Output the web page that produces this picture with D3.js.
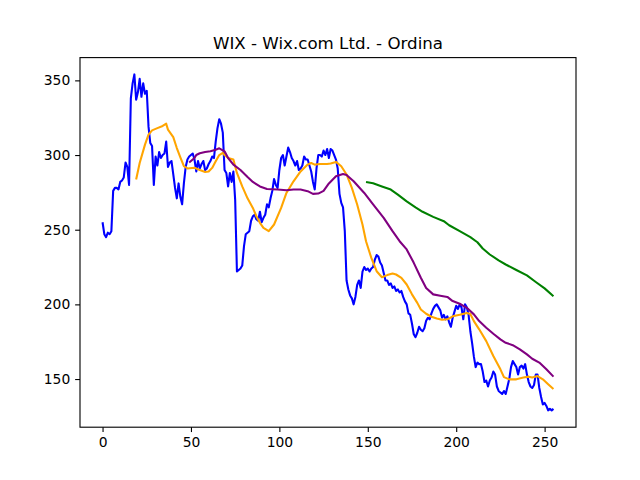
<!DOCTYPE html>
<html>
<head>
<meta charset="utf-8">
<script src="https://cdn.jsdelivr.net/npm/d3@7"></script>
<style>
	body { margin: 0; background: #fff; }
	text { font-family: "DejaVu Sans", sans-serif; }
</style>
</head>
<body>
<svg id="chart" width="640" height="480"></svg>
<script>
var title = "WIX - Wix.com Ltd. - Ordina"

// closing price, one value per day (index 0..255)
var price = [
	255, 247, 245, 248, 247, 249, 276, 278, 278, 277,
	282, 283, 285, 295, 292, 280, 338, 348, 354, 337,
	342, 351, 339, 348, 341, 343, 319, 308, 306, 280,
	299, 293, 302, 298, 300, 301, 309, 292, 295, 296,
	287, 278, 271, 281, 272, 267, 281, 292, 297, 299,
	300, 301, 297, 289, 296, 291, 294, 296, 290, 291,
	294, 296, 299, 298, 309, 318, 324, 321, 315, 290,
	288, 279, 288, 282, 289, 270, 222, 223, 224, 226,
	239, 247, 248, 249, 256, 259, 260, 257, 256, 262,
	255, 258, 260, 267, 265, 271, 276, 284, 280, 278,
	290, 298, 300, 293, 299, 305, 302, 298, 296, 293,
	296, 290, 291, 293, 299, 297, 297, 293, 289, 282,
	277, 291, 300, 300, 299, 303, 300, 304, 298, 304,
	303, 300, 297, 291, 274, 268, 265, 249, 216, 210,
	206, 204, 200, 205, 213, 216, 211, 222, 225, 223,
	224, 222, 224, 225, 230, 233, 232, 228, 226, 221,
	216, 216, 213, 214, 211, 212, 209, 210, 208, 209,
	205, 202, 200, 194, 193, 187, 180, 178, 181, 185,
	183, 182, 184, 189, 191, 190, 194, 197, 199, 200,
	198, 196, 191, 193, 190, 192, 188, 185, 191, 195,
	199, 197, 200, 198, 190, 200, 198, 193, 182, 174,
	165, 158, 161, 160, 160, 155, 148, 149, 145, 149,
	151, 155, 153, 145, 142, 141, 140, 142, 140, 145,
	150, 158, 162, 160, 158, 153, 158, 159, 157, 160,
	153, 148, 145, 144, 146, 153, 153, 144, 138, 133,
	134, 132, 129, 130, 129, 130
]

var ma20Days = [19, 21, 24, 26, 28, 31, 34, 36, 37, 40, 42, 44, 46, 48, 52, 55, 58, 60, 62, 64,
	66, 68, 69, 71, 74, 76, 79, 82, 85, 87, 89, 91, 94, 97, 101, 104, 108, 112, 116, 118,
	120, 123, 127, 129, 132, 135, 138, 141, 144, 147, 149, 152, 155, 158, 161, 164, 166, 169, 172, 175,
	178, 180, 183, 186, 189, 192, 195, 198, 202, 206, 208, 210, 213, 217, 221, 225, 227, 230, 234, 238,
	241, 243, 246, 249, 252, 255]
var ma20Values = [283.6, 294.7, 307, 313.7, 316.5, 318, 319.5, 321, 317, 312, 304.7, 298.5, 292.5, 291, 291.5, 290, 288.7, 289, 291.4, 295.8,
	300, 301.4, 300, 298, 297, 288, 279, 271, 264.6, 259, 254.6, 251.2, 249, 253.5, 264.6, 274.6, 282.4, 289, 293.6, 294.7,
	293.6, 294, 294, 294.3, 295.4, 292.5, 287, 278, 266.9, 253.5, 242.3, 231.1, 222.2, 218.2, 219.6, 220.7, 220, 217.8, 213.3, 206.7,
	201, 196.6, 193.7, 191.7, 190.6, 189.7, 190, 192, 193, 194.3, 193.6, 188.8, 183.3, 175.4, 165.4, 156.5, 151.3, 149.8, 149.8, 151,
	151.6, 151, 152, 149.8, 146.5, 143.3]

var ma50Days = [49, 52, 53, 55, 58, 61, 64, 66, 69, 71, 74, 78, 82, 85, 89, 93, 99, 104, 108, 112,
	116, 119, 122, 125, 128, 132, 136, 138, 142, 148, 153, 159, 164, 168, 172, 176, 180, 183, 187, 191,
	195, 198, 202, 206, 210, 213, 217, 221, 225, 228, 232, 236, 240, 243, 247, 251, 255]
var ma50Values = [295, 298, 300, 301.2, 302, 302.5, 303.6, 304.5, 302.5, 298, 293.6, 290, 285.3, 282, 279, 277.3, 276.9, 276.4, 276.9, 276.9,
	275.8, 274, 274.2, 276, 281, 285.8, 287.3, 286.6, 282.4, 274.6, 266.9, 257.9, 249, 242.3, 236.8, 227.8, 217.8, 211, 206.7, 205.8,
	205, 202.2, 200.4, 197.7, 193.3, 188.8, 184.3, 180.3, 176.6, 174.3, 172.7, 169.9, 166.5, 163.6, 161, 156.5, 151.6]

var ma150Days = [149, 153, 158, 163, 167, 172, 177, 181, 187, 193, 196, 202, 208, 212, 215, 219, 224, 228, 234, 240, 245, 250, 255]
var ma150Values = [282, 281.1, 279, 276.9, 273.5, 269, 265, 262, 258.6, 255.7, 253, 249, 245, 241.6, 237.4, 233.4, 229.4, 226.7, 223, 219.4, 215, 210.7, 205.5]

var xTicks = [0, 50, 100, 150, 200, 250]
var yTicks = [150, 200, 250, 300, 350]

var W = 640, H = 480
// axes box, in pixels (matplotlib default subplot params)
var axLeft = 80, axRight = 576, axTop = 57.6, axBottom = 427.2
var pt = 100 / 72
var lw = 1.5 * pt

var series = [
	{ days: price.map((v, i) => i), values: price, color: "blue" },
	{ days: ma20Days, values: ma20Values, color: "orange" },
	{ days: ma50Days, values: ma50Values, color: "purple" },
	{ days: ma150Days, values: ma150Values, color: "green" }
]

// matplotlib style 5% margins
function padded(lo, hi) {
	let m = (hi - lo) * 0.05
	return [lo - m, hi + m]
}

var allDays = series.flatMap(s => s.days)
var allValues = series.flatMap(s => s.values)

var x = d3.scaleLinear()
.domain(padded(d3.min(allDays), d3.max(allDays)))
.range([axLeft, axRight])

var y = d3.scaleLinear()
.domain(padded(d3.min(allValues), d3.max(allValues)))
.range([axBottom, axTop])

var svg = d3.select("#chart")

svg.append("rect")
.attr("width", W)
.attr("height", H)
.attr("fill", "#fff")

var line = d3.line()
.x(d => x(d[0]))
.y(d => y(d[1]))

svg.append("g")
.selectAll("path")
.data(series)
.join("path")
.attr("d", s => line(s.days.map((d, i) => [d, s.values[i]])))
.attr("fill", "none")
.attr("stroke", s => s.color)
.attr("stroke-width", lw)
.attr("stroke-linejoin", "round")

var tick = 3.5 * pt
var fontSize = 10 * pt

var xAxis = svg.append("g")
.attr("transform", "translate(0," + axBottom + ")")
.call(d3.axisBottom(x).tickValues(xTicks).tickFormat(d3.format("d")).tickSize(tick).tickPadding(tick))

var yAxis = svg.append("g")
.attr("transform", "translate(" + axLeft + ",0)")
.call(d3.axisLeft(y).tickValues(yTicks).tickFormat(d3.format("d")).tickSize(tick).tickPadding(tick))

for (let a of [xAxis, yAxis]) {
	a.select(".domain").remove()
	a.selectAll(".tick line")
	.attr("stroke", "#000")
	.attr("stroke-width", 0.8 * pt)
	a.selectAll(".tick text")
	.attr("fill", "#000")
	.style("font-family", "'DejaVu Sans', sans-serif")
	.style("font-size", fontSize + "px")
}

svg.append("rect")
.attr("x", axLeft)
.attr("y", axTop)
.attr("width", axRight - axLeft)
.attr("height", axBottom - axTop)
.attr("fill", "none")
.attr("stroke", "#000")
.attr("stroke-width", 0.8 * pt)

svg.append("text")
.attr("x", (axLeft + axRight) / 2)
.attr("y", axTop - 6 * pt)
.attr("text-anchor", "middle")
.style("font-size", (12 * pt) + "px")
.text(title)
</script>
</body>
</html>
